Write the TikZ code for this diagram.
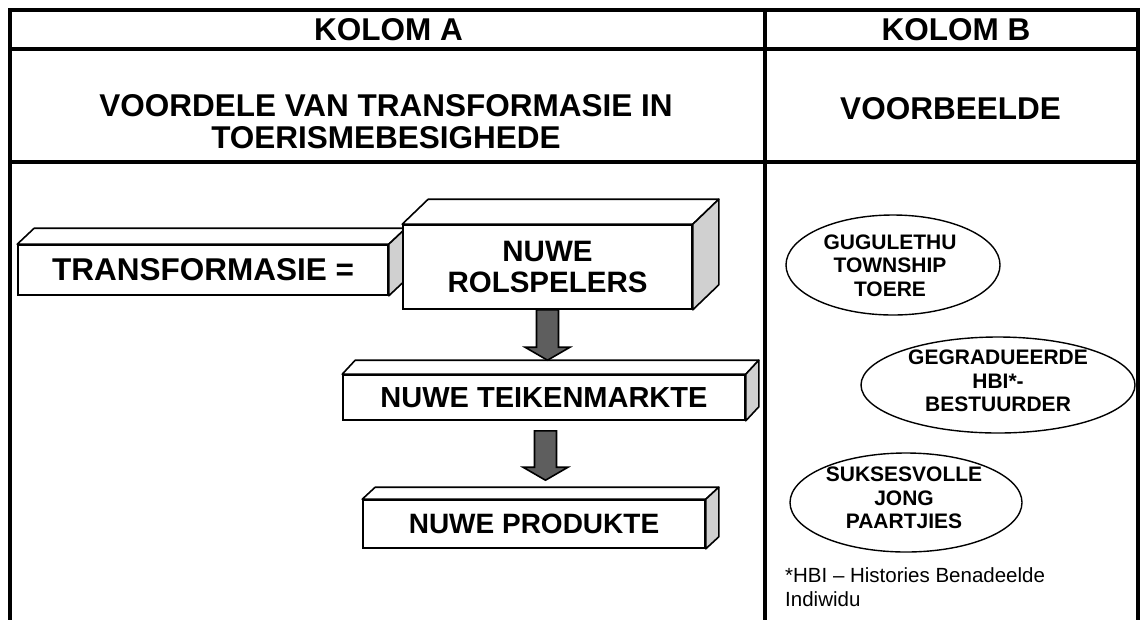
\documentclass[tikz,border=0pt]{standalone}
\usepackage{fontspec}
\setmainfont{Liberation Sans}
\usetikzlibrary{calc,shapes.geometric}

\definecolor{sidegray}{HTML}{D0D0D0}
\definecolor{arrowgray}{HTML}{5E5E5E}
\newcommand{\pxfont}[2]{\fontsize{#1}{#2}\selectfont\bfseries}

\tikzset{
	gridline/.style={line width=4pt, line cap=rect},
	headtext/.style={inner sep=0pt, align=center, font=\pxfont{31.5}{32}},
	slab/.style={draw, line width=1.6pt, fill=white, inner sep=0pt, align=center},
	slabface/.style={draw, line width=1.6pt, line join=round},
	oval/.style={draw, ellipse, line width=1.4pt, inner sep=0pt},
	ovaltext/.style={inner sep=0pt, align=center, font=\pxfont{21}{23.5}},
	fatarrow/.style={draw, line width=1.6pt, fill=arrowgray, line join=miter},
}

% top and side face of a slab node, #2 is the depth offset
\newcommand{\slabdepth}[2]{%
	\draw[slabface, fill=white] (#1.north west) -- ++(#2) -- ($(#1.north east)+(#2)$) -- (#1.north east) -- cycle;
	\draw[slabface, fill=sidegray] (#1.north east) -- ++(#2) -- ($(#1.south east)+(#2)$) -- (#1.south east) -- cycle;
}
% block arrow pointing down, from #1 to #2
\newcommand{\fatdown}[2]{%
	\draw[fatarrow] ($(#1)+(-11,0)$) -- ($(#2)+(-11,-13)$) -- ($(#2)+(-22.5,-13)$) -- (#2)
		-- ($(#2)+(22.5,-13)$) -- ($(#2)+(11,-13)$) -- ($(#1)+(11,0)$) -- cycle;
}

\begin{document}
\begin{tikzpicture}[x=1pt, y=-1pt]

		\useasboundingbox (0,0) rectangle (1142,619);

		% table
		\draw[gridline] (10,10) -- (1137.5,10);
		\draw[gridline] (10,49) -- (1137.5,49);
		\draw[gridline] (10,162) -- (1137.5,162);
		\draw[gridline] (10,10) -- (10,625);
		\draw[gridline] (764.5,10) -- (764.5,625);
		\draw[gridline] (1137.5,10) -- (1137.5,625);

		\node[headtext] (kolA) at (388.5,29.5) {KOLOM A};
		\node[headtext] (kolB) at (956,29.5) {KOLOM B};
		\node[headtext] (voordele) at (386,121.5) {VOORDELE VAN TRANSFORMASIE IN\\TOERISMEBESIGHEDE};
		\node[headtext] (voorbeelde) at (950.5,108.5) {VOORBEELDE};

		% column A
		\node[slab, minimum width=370pt, minimum height=50pt, font=\pxfont{31.5}{32}] (trans) at (203,270) {TRANSFORMASIE =};
		\slabdepth{trans}{17,-16}

		\node[slab, minimum width=289pt, minimum height=84pt, font=\pxfont{29.5}{31}] (rol) at (547.5,267) {NUWE\\ROLSPELERS};
		\slabdepth{rol}{26,-25}

		\node[slab, minimum width=402pt, minimum height=45pt, font=\pxfont{29}{30}] (teiken) at (544,397.5) {NUWE TEIKENMARKTE};
		\slabdepth{teiken}{13,-14}

		\node[slab, minimum width=342pt, minimum height=48pt, font=\pxfont{28}{30}] (produkte) at (534,524) {NUWE PRODUKTE};
		\slabdepth{produkte}{13,-12}

		\coordinate (teikentop) at ($(teiken.north)+(13,-14)$);
		\coordinate (prodtop) at ($(produkte.north)+(13,-12)$);
		\coordinate (tip1) at (rol.south |- teikentop);
		\coordinate (a2start) at ($(teiken.south)+(1.5,10)$);
		\coordinate (tip2) at ($(a2start |- prodtop)+(0,-7)$);
		\fatdown{rol.south}{tip1}
		\fatdown{a2start}{tip2}

		% column B
		\node[oval, minimum width=214pt, minimum height=100pt] (e1) at (893,265) {};
		\node[ovaltext] at (890,265.5) {GUGULETHU\\TOWNSHIP\\TOERE};

		\node[oval, minimum width=274pt, minimum height=96pt] (e2) at (998,385) {};
		\node[ovaltext] at (998,381) {GEGRADUEERDE\\HBI*-\\BESTUURDER};

		\node[oval, minimum width=232pt, minimum height=99pt] (e3) at (906,502.5) {};
		\node[ovaltext] at (904,498) {SUKSESVOLLE\\JONG\\PAARTJIES};

		\node[anchor=north west, inner sep=0pt, align=left, font=\fontsize{20.5}{24.5}\selectfont] (footnote) at (785,567) {*HBI – Histories Benadeelde\\Indiwidu};

\end{tikzpicture}
\end{document}
